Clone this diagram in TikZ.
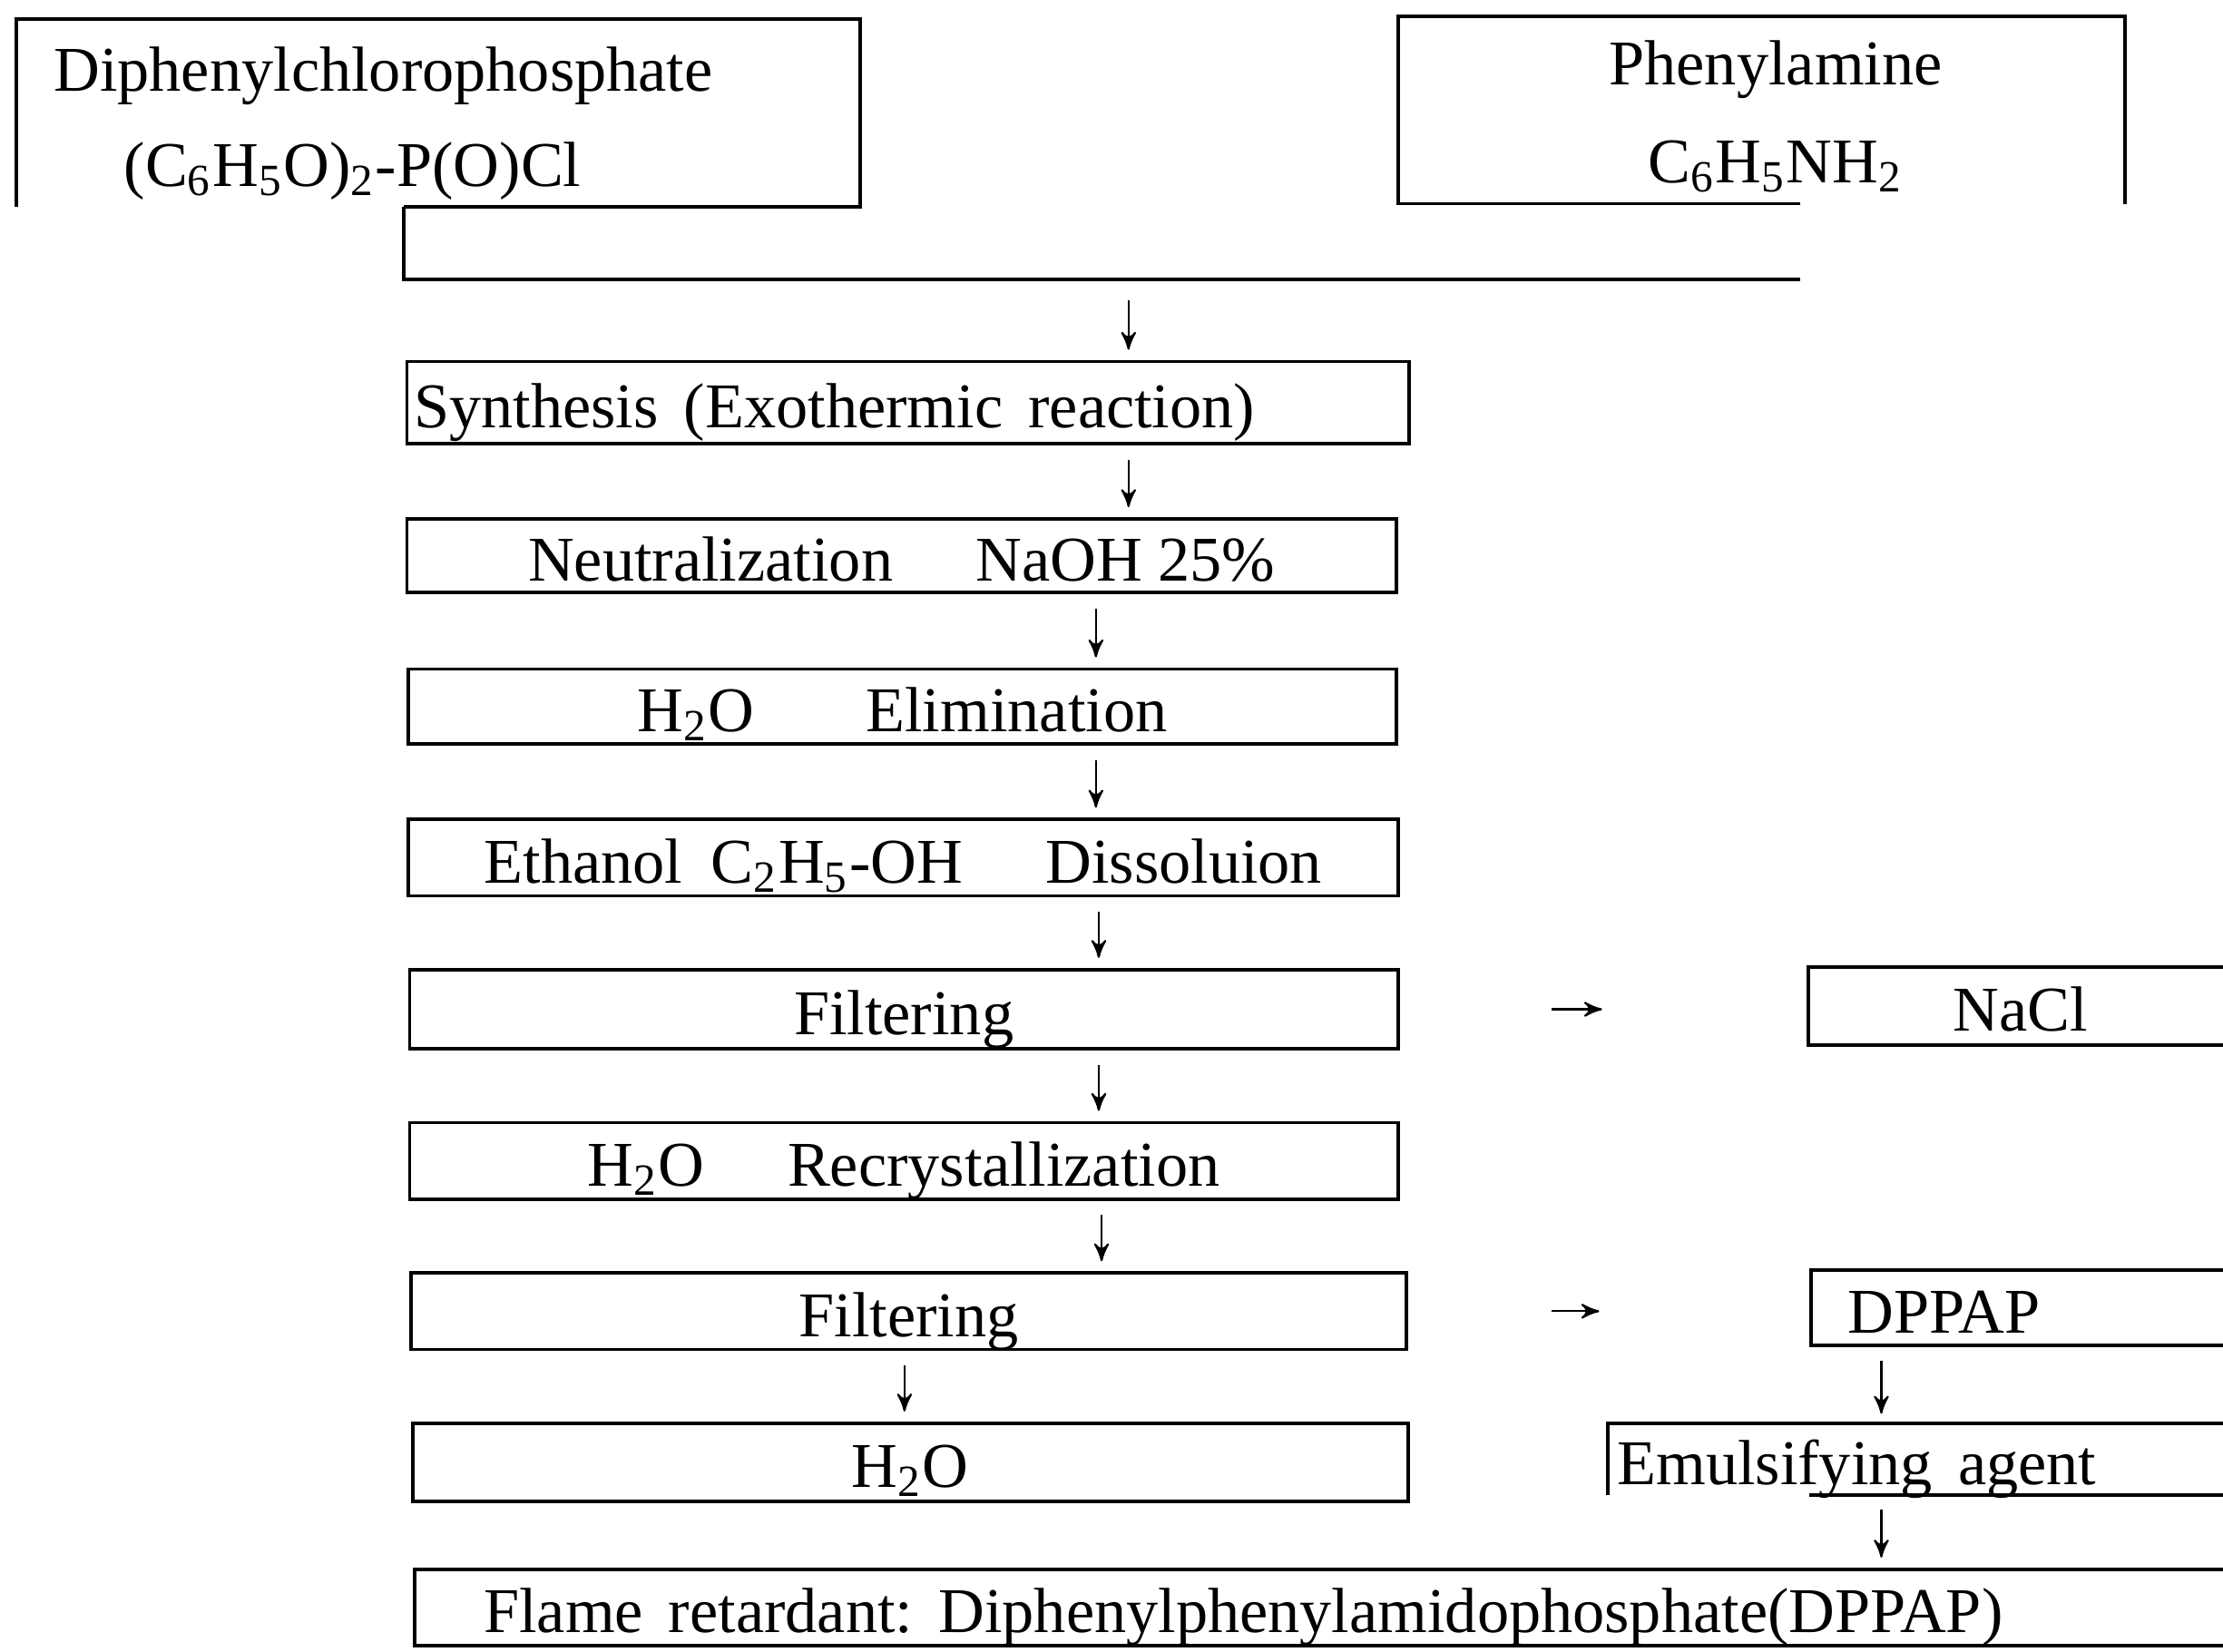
\documentclass[tikz,border=0pt]{standalone}
\usepackage{fontspec}
\setmainfont{Liberation Serif}
\usetikzlibrary{
    arrows
}

\begin{document}
\begin{tikzpicture}[>=stealth',font=\fontsize{12.8}{15.5}\selectfont]
    \tikzstyle{box}=[draw, rectangle, inner sep=0pt, line width=0.7pt, text height=10.2pt, text depth=0pt]
    \tikzstyle{edge}=[line width=0.7pt]
    \tikzstyle{flow}=[->, thin, shorten <=0.1cm, shorten >=0.07cm]

    \useasboundingbox (0,0) rectangle (15.68,11.65);
    \clip (0,0) rectangle (15.68,11.65);

    % starting materials
    \node[inner sep=0pt, minimum width=5.94cm, minimum height=1.31cm, text width=5.42cm, align=left] (diph) at (3.09,10.855) {\rule{0pt}{13.2pt}Diphenylchlorophosphate\\[3.5pt]\hspace{1.1em}(C\textsubscript{6}H\textsubscript{5}O)\textsubscript{2}-P(O)Cl};
    \node[inner sep=0pt, minimum width=5.11cm, minimum height=1.31cm, align=center] (phen) at (12.425,10.875) {\rule{0pt}{11.5pt}\hspace{0.2cm}Phenylamine\\[4.3pt]\hspace{0.2cm}C\textsubscript{6}H\textsubscript{5}NH\textsubscript{2}};
    \coordinate (joinL) at (2.85,9.68);
    \coordinate (joinR) at (12.70,9.68);

    \draw[edge] (diph.south -| joinL) -- (diph.south east) -- (diph.north east) -- (diph.north west) -- (diph.south west);
    \draw[edge] (phen.south -| joinR) -- (phen.south west) -- (phen.north west) -- (phen.north east) -- (phen.south east);
    \draw[edge] (diph.south -| joinL) -- (joinL) -- (joinR);

    % main line
    \node[box, minimum width=7.07cm, minimum height=0.58cm, text width=6.97cm, align=left] (syn) at (6.405,8.81) {Synthesis\hspace{0.4em}(Exothermic\hspace{0.4em}reaction)};
    \node[box, minimum width=6.98cm, minimum height=0.52cm] (neu) at (6.36,7.73) {Neutralization\hspace{1.3em}NaOH 25\%};
    \node[box, minimum width=6.97cm, minimum height=0.53cm] (eli) at (6.365,6.665) {H\textsubscript{2}O\hspace{1.75em}Elimination};
    \node[box, minimum width=6.98cm, minimum height=0.54cm] (eth) at (6.37,5.60) {Ethanol\hspace{0.2em} C\textsubscript{2}H\textsubscript{5}-OH\hspace{1.3em}Dissoluion};
    \node[box, minimum width=6.97cm, minimum height=0.56cm] (fil1) at (6.375,4.53) {Filtering};
    \node[box, minimum width=6.97cm, minimum height=0.54cm] (rec) at (6.375,3.46) {H\textsubscript{2}O\hspace{1.3em}Recrystallization};
    \node[box, minimum width=7.02cm, minimum height=0.54cm] (fil2) at (6.41,2.40) {Filtering};
    \node[box, minimum width=7.02cm, minimum height=0.55cm] (wat) at (6.42,1.335) {H\textsubscript{2}O};
    \node[box, anchor=west, minimum width=13.5cm, minimum height=0.54cm, text width=12.52cm, align=left] (fla) at (2.91,0.31) {Flame\hspace{0.4em}retardant:\hspace{0.4em}Diphenylphenylamidophosphate(DPPAP)};

    % side products
    \node[box, anchor=west, minimum width=3.0cm, minimum height=0.55cm] (nacl) at (12.74,4.555) {NaCl};
    \node[box, anchor=west, minimum width=3.2cm, minimum height=0.53cm, text width=2.68cm, align=left] (dppap) at (12.76,2.425) {DPPAP};
    \node[inner sep=0pt, anchor=west, minimum width=4.6cm, minimum height=0.49cm, text width=4.48cm, align=left, text height=10.2pt, text depth=0pt] (emu) at (11.34,1.355) {Emulsifying\hspace{0.4em}agent};
    \draw[edge] (emu.south west) -- (emu.north west) -- (emu.north east);
    \draw[edge] (emu.south -| dppap.west) -- (emu.south east);

    % arrows
    \draw[flow, shorten <=0.15cm] (joinL -| 7.96,0) -- (syn.north -| 7.96,0);
    \draw[flow] (syn.south -| 7.96,0) -- (neu.north -| 7.96,0);
    \draw[flow] (neu.south -| 7.73,0) -- (eli.north -| 7.73,0);
    \draw[flow] (eli.south -| 7.73,0) -- (eth.north -| 7.73,0);
    \draw[flow] (eth.south -| 7.75,0) -- (fil1.north -| 7.75,0);
    \draw[flow] (fil1.south -| 7.75,0) -- (rec.north -| 7.75,0);
    \draw[flow] (rec.south -| 7.77,0) -- (fil2.north -| 7.77,0);
    \draw[flow] (fil2.south -| 6.38,0) -- (wat.north -| 6.38,0);
    \draw[flow] (dppap.south -| 13.27,0) -- (emu.north -| 13.27,0);
    \draw[flow] (emu.south -| 13.27,0) -- (fla.north -| 13.27,0);
    \draw[flow, shorten <=1.07cm, shorten >=1.44cm] (fil1.east) -- (fil1.east -| nacl.west);
    \draw[flow, shorten <=1.01cm, shorten >=1.48cm] (fil2.east) -- (fil2.east -| dppap.west);
\end{tikzpicture}
\end{document}
